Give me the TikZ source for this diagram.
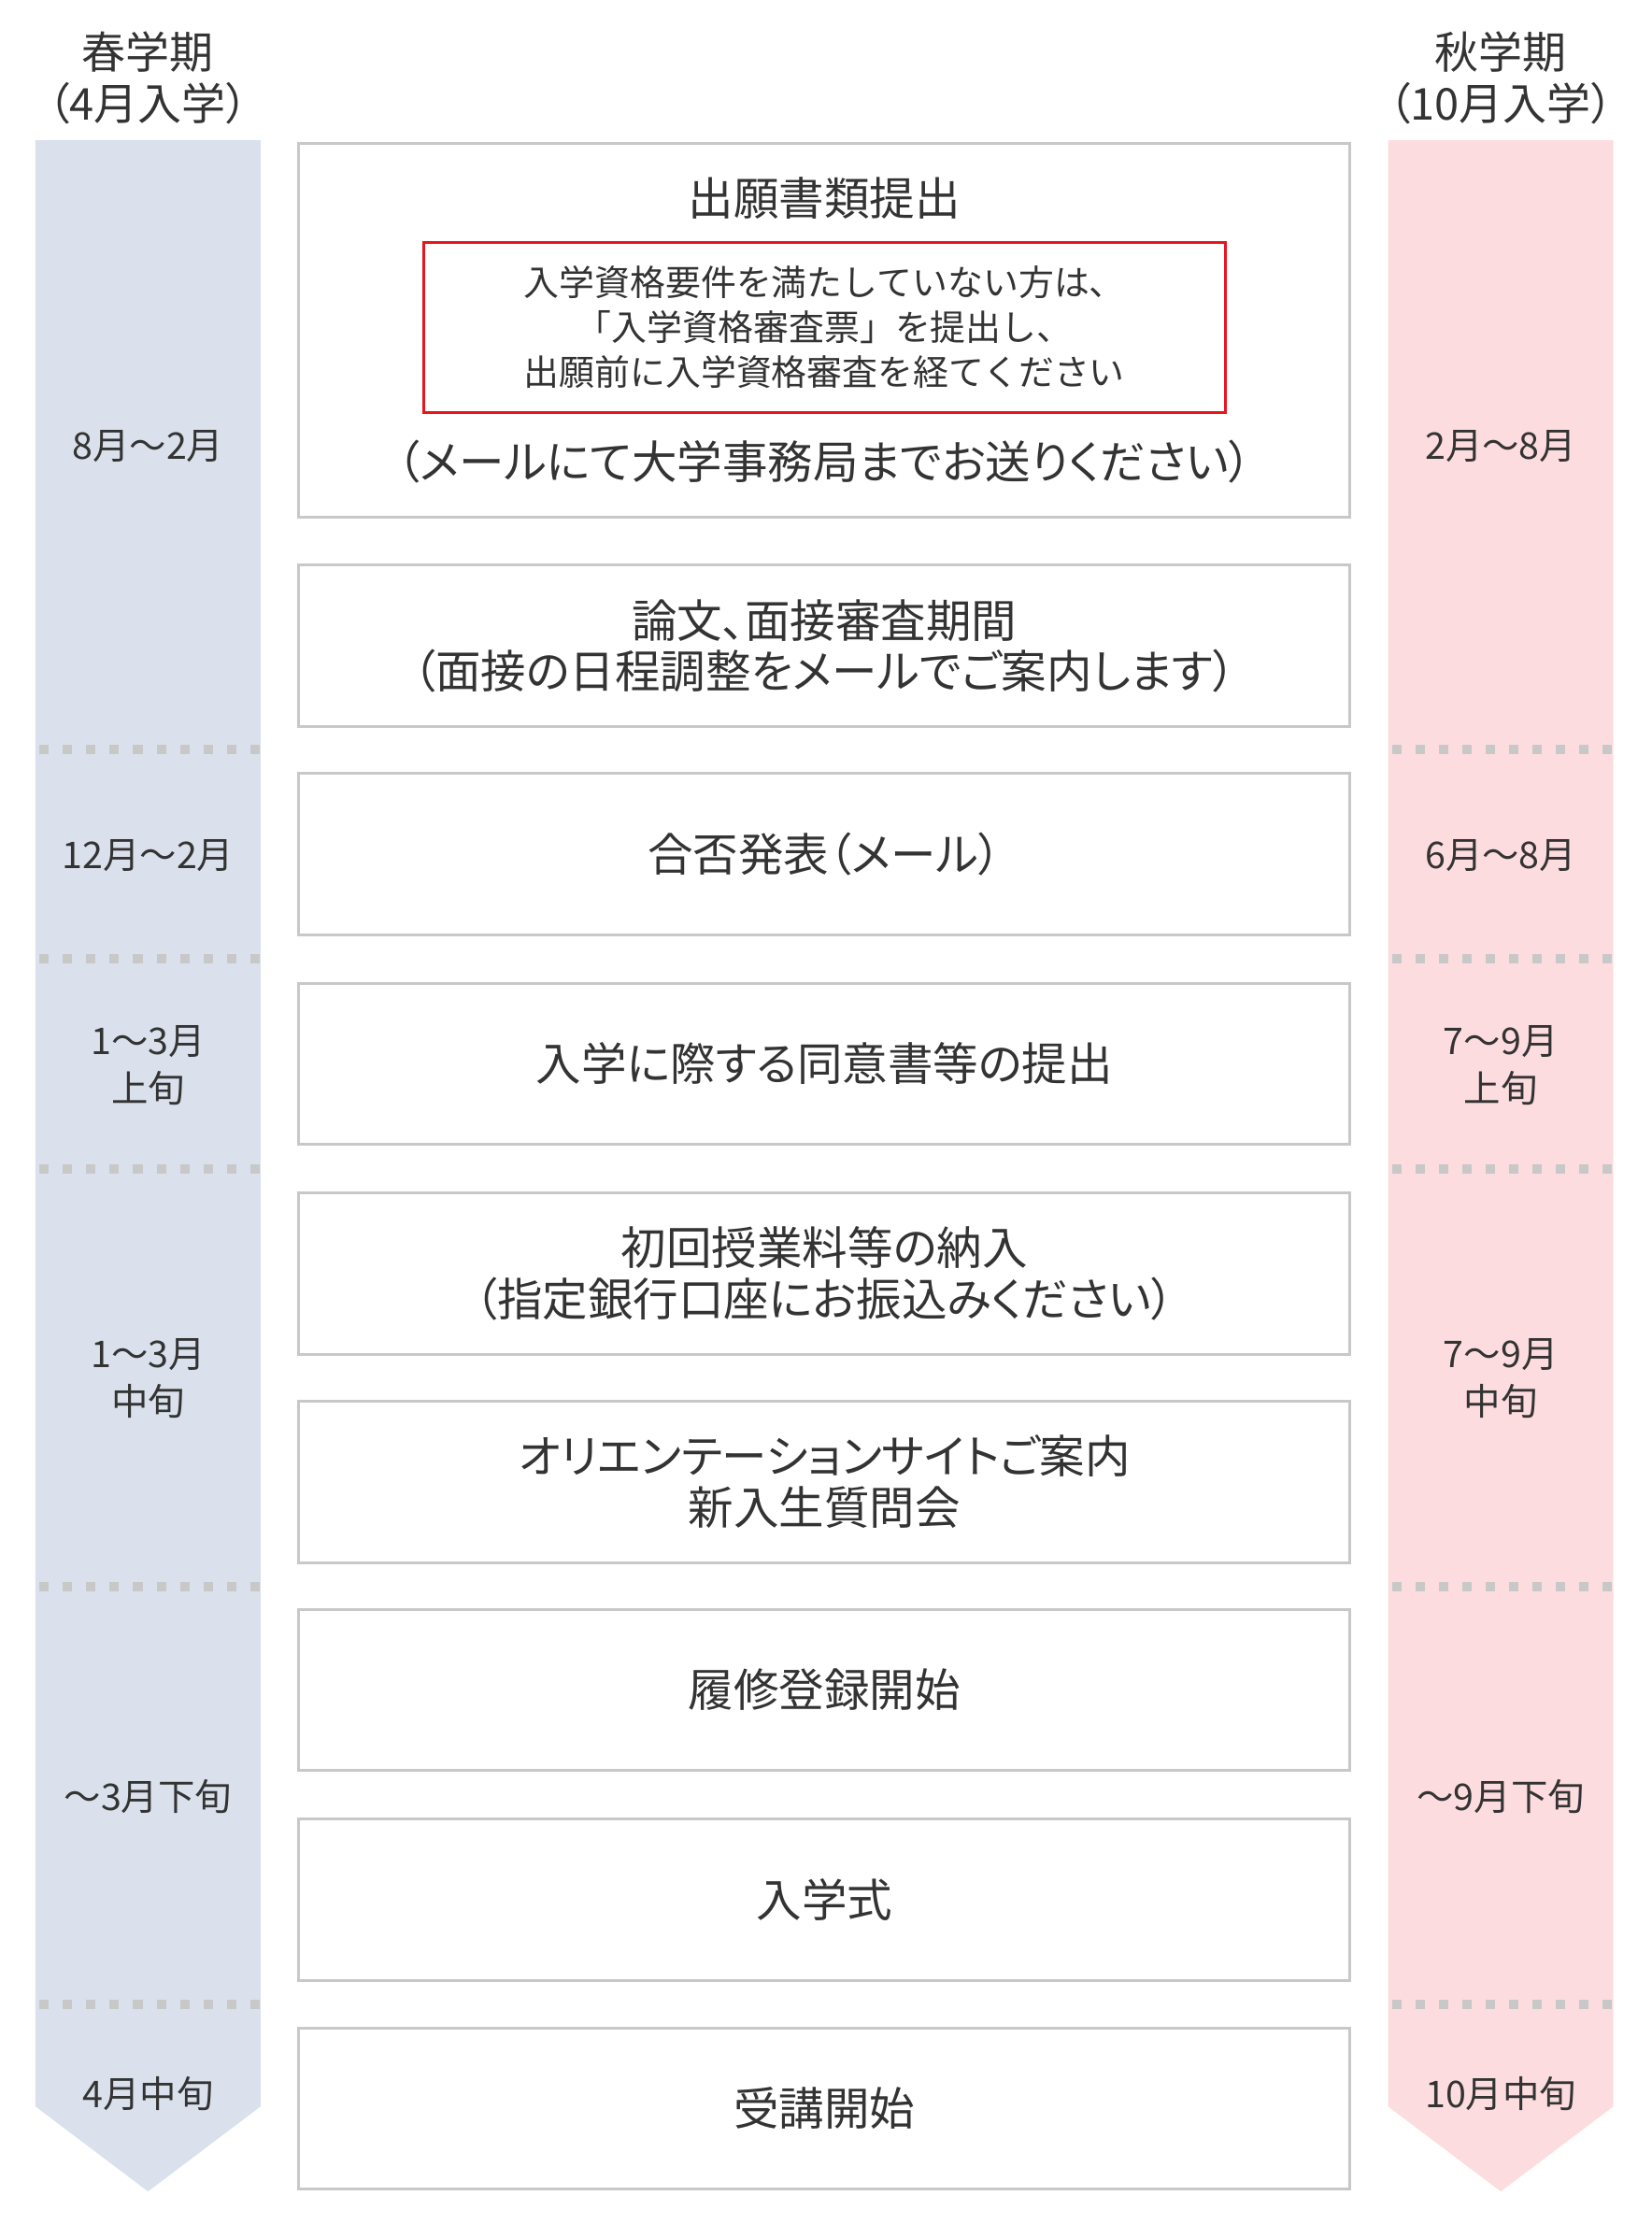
\documentclass[tikz,border=0pt]{standalone}
\usepackage{fontspec}
\setmainfont{Noto Sans CJK JP}[RawFeature=+palt]
\newfontfamily\fullwidthfont{Noto Sans CJK JP}
\definecolor{txt}{HTML}{333333}
\definecolor{boxgray}{HTML}{C8C8C8}
\definecolor{springfill}{HTML}{DAE1EC}
\definecolor{autumnfill}{HTML}{FDDCDF}
\definecolor{redline}{HTML}{E8141E}
\newcommand{\mainfs}{\fontsize{32}{36}\selectfont}
\newcommand{\headfs}{\fontsize{31}{36}\selectfont}
\newcommand{\redfs}{\fullwidthfont\fontsize{25}{31.5}\selectfont}
\newcommand{\bandfs}{\fontsize{26}{34}\selectfont}
\begin{document}
\begin{tikzpicture}[x=1pt,y=-1pt,
  stepbox/.style={draw=boxgray, line width=2pt, fill=white, minimum width=742pt,
    minimum height=114pt, inner sep=0pt, align=center, text=txt, font=\mainfs},
  plain/.style={inner sep=0pt, align=center, text=txt, font=\mainfs},
  redtext/.style={inner sep=0pt, align=center, text=txt, font=\redfs},
  bandlabel/.style={inner sep=0pt, align=center, text=txt, font=\bandfs},
  header/.style={inner sep=0pt, align=center, text=txt, font=\headfs},
  dotrow/.style={draw=boxgray, line width=6.6pt, dash pattern=on 6.6pt off 9.9pt}
]
\useasboundingbox (0,0) rectangle (1166,1570);
\fill[white] (0,0) rectangle (1166,1570);

% bands
\fill[springfill] (25,99) -- (184,99) -- (184,1487) -- (104.5,1547) -- (25,1487) -- cycle;
\fill[autumnfill] (980,99) -- (1139,99) -- (1139,1487) -- (1059.5,1547) -- (980,1487) -- cycle;

% dotted separators
\foreach \yy in {529,677,825,1120,1415}{
  \draw[dotrow] (28,\yy) -- (184,\yy);
  \draw[dotrow] (983,\yy) -- (1139,\yy);
}

% headers
\node[header] (hspring) at (104.5,55) {春学期\\（4月入学）};
\node[header] (hautumn) at (1059.5,55) {秋学期\\（10月入学）};

% band labels
\node[bandlabel] (s1) at (104.5,315) {8月〜2月};
\node[bandlabel] (s2) at (104.5,604) {12月〜2月};
\node[bandlabel] (s3) at (104.5,752) {1〜3月\\上旬};
\node[bandlabel] (s4) at (104.5,973) {1〜3月\\中旬};
\node[bandlabel] (s5) at (104.5,1268) {〜3月下旬};
\node[bandlabel] (s6) at (104.5,1478) {4月中旬};

\node[bandlabel] (a1) at (1059.5,315) {2月〜8月};
\node[bandlabel] (a2) at (1059.5,604) {6月〜8月};
\node[bandlabel] (a3) at (1059.5,752) {7〜9月\\上旬};
\node[bandlabel] (a4) at (1059.5,973) {7〜9月\\中旬};
\node[bandlabel] (a5) at (1059.5,1268) {〜9月下旬};
\node[bandlabel] (a6) at (1059.5,1478) {10月中旬};

% box 1
\node[stepbox, minimum height=264pt] (b1) at (582,233) {};
\node[plain] (b1title) at (582,140) {出願書類提出};
\node[draw=redline, line width=2pt, minimum width=566pt, minimum height=120pt, inner sep=0pt] (redbox) at (582,231) {};
\node[redtext] (b1red) at (redbox.center) {入学資格要件を満たしていない方は、\\「入学資格審査票」を提出し、\\出願前に入学資格審査を経てください};
\node[plain] (b1note) at (582,326) {（メールにて大学事務局までお送りください）};

% other boxes
\node[stepbox] (b2) at (582,456) {論文、面接審査期間\\（面接の日程調整をメールでご案内します）};
\node[stepbox] (b3) at (582,603) {合否発表（メール）};
\node[stepbox] (b4) at (582,751) {入学に際する同意書等の提出};
\node[stepbox] (b5) at (582,899) {初回授業料等の納入\\（指定銀行口座にお振込みください）};
\node[stepbox] (b6) at (582,1046) {オリエンテーションサイトご案内\\新入生質問会};
\node[stepbox] (b7) at (582,1193) {履修登録開始};
\node[stepbox] (b8) at (582,1341) {入学式};
\node[stepbox] (b9) at (582,1488.5) {受講開始};
\end{tikzpicture}
\end{document}
